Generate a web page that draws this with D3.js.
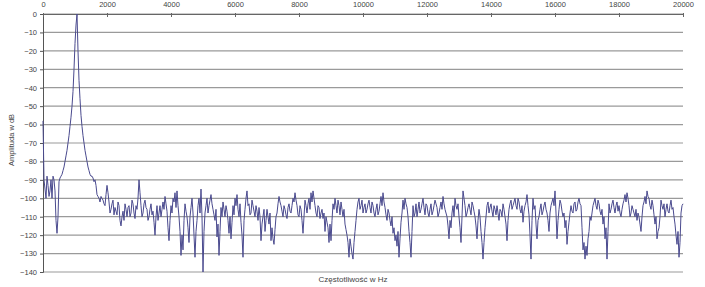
<!DOCTYPE html>
<html><head><meta charset="utf-8">
<script src="https://cdn.jsdelivr.net/npm/d3@7/dist/d3.min.js"></script>
<style>
html,body{margin:0;padding:0;background:#fff;}
svg{display:block;font-family:"Liberation Sans",Arial,sans-serif;}
</style></head>
<body>
<svg id="chart" width="705" height="287"></svg>
<script>
// frequency bins: spacing in Hz between consecutive samples
const binStepHz = 31.25;
// amplitude in dB per bin (bin 0 = 0 Hz), 641 bins up to 20000 Hz
const amplitudeDb = [
  -58, -90, -95, -100, -88, -93, -99, -96, -90, -100, -88, -90, -96, -112, -119, -110, -91, -89, -88, -87,
  -85, -83, -80, -77, -74, -70, -66, -61, -56, -50, -42, -30, -16, -6, 0, -20, -36, -46, -55, -61,
  -66, -70, -74, -77, -80, -83, -85, -87, -88, -88, -89, -91, -90, -93, -98, -99, -100, -102, -99, -100,
  -101, -103, -104, -98, -93, -97, -102, -108, -106, -103, -101, -109, -105, -107, -109, -102, -104, -112, -115, -110,
  -107, -112, -103, -106, -110, -105, -104, -110, -108, -101, -103, -108, -111, -104, -106, -100, -90, -97, -104, -110,
  -108, -103, -101, -105, -106, -112, -110, -106, -103, -109, -107, -113, -120, -110, -104, -112, -108, -104, -110, -106,
  -102, -106, -99, -103, -107, -116, -123, -112, -104, -108, -100, -102, -97, -105, -96, -104, -110, -118, -131, -120,
  -128, -112, -103, -107, -110, -116, -124, -110, -105, -100, -108, -120, -132, -118, -112, -104, -100, -108, -95, -110,
  -140, -118, -108, -104, -100, -108, -104, -101, -98, -103, -106, -109, -112, -106, -121, -114, -131, -118, -105, -110,
  -102, -106, -110, -104, -107, -112, -119, -110, -122, -113, -104, -109, -100, -104, -98, -106, -110, -103, -113, -120,
  -132, -112, -106, -100, -96, -104, -103, -109, -108, -101, -104, -107, -110, -104, -107, -112, -105, -110, -123, -114,
  -110, -106, -118, -112, -106, -110, -114, -108, -123, -116, -122, -125, -117, -110, -108, -103, -99, -102, -104, -107,
  -110, -104, -106, -109, -111, -105, -103, -107, -108, -104, -100, -102, -97, -101, -104, -109, -110, -104, -106, -112,
  -119, -110, -101, -104, -108, -103, -100, -106, -97, -102, -96, -100, -104, -108, -110, -104, -105, -111, -108, -106,
  -111, -108, -118, -110, -113, -116, -124, -114, -123, -112, -103, -106, -100, -104, -108, -101, -104, -109, -102, -106,
  -110, -106, -114, -117, -120, -124, -132, -122, -126, -130, -133, -124, -118, -112, -106, -102, -100, -106, -104, -101,
  -108, -105, -103, -108, -106, -103, -101, -105, -108, -102, -104, -108, -110, -106, -103, -109, -107, -103, -99, -104,
  -97, -102, -105, -109, -112, -106, -108, -112, -115, -110, -119, -116, -123, -120, -126, -118, -132, -122, -113, -108,
  -101, -106, -100, -103, -105, -110, -118, -124, -132, -118, -104, -110, -108, -103, -110, -106, -102, -108, -106, -103,
  -100, -105, -109, -103, -104, -108, -110, -106, -103, -109, -107, -104, -101, -103, -105, -110, -108, -105, -102, -106,
  -99, -103, -106, -108, -110, -115, -122, -112, -116, -108, -104, -110, -100, -104, -106, -103, -110, -116, -124, -110,
  -96, -100, -104, -110, -108, -105, -103, -106, -109, -102, -104, -107, -110, -115, -122, -112, -106, -110, -118, -124,
  -133, -124, -116, -110, -104, -102, -108, -105, -103, -107, -110, -104, -106, -109, -104, -108, -112, -106, -107, -110,
  -103, -106, -110, -114, -123, -112, -106, -103, -101, -106, -104, -102, -100, -104, -106, -100, -102, -106, -108, -104,
  -113, -107, -104, -102, -98, -104, -109, -120, -133, -112, -100, -106, -104, -114, -122, -112, -110, -106, -103, -109,
  -107, -104, -102, -106, -108, -112, -118, -108, -104, -102, -100, -104, -96, -108, -122, -112, -106, -101, -103, -107,
  -110, -108, -116, -112, -125, -118, -113, -108, -104, -107, -108, -103, -102, -107, -106, -102, -100, -103, -104, -116,
  -128, -124, -133, -126, -131, -122, -118, -110, -112, -108, -104, -102, -100, -104, -106, -101, -103, -107, -109, -106,
  -114, -110, -122, -116, -133, -118, -103, -108, -106, -103, -101, -105, -108, -104, -102, -107, -104, -108, -110, -106,
  -103, -101, -98, -102, -97, -100, -104, -110, -108, -104, -106, -108, -110, -106, -112, -108, -110, -114, -118, -110,
  -104, -102, -99, -103, -96, -99, -100, -104, -106, -101, -104, -109, -114, -110, -122, -118, -116, -110, -101, -104,
  -106, -103, -110, -106, -103, -107, -108, -104, -101, -106, -105, -110, -114, -120, -125, -118, -132, -124, -108, -104,
  -103
];
const xTicks = [0, 2000, 4000, 6000, 8000, 10000, 12000, 14000, 16000, 18000, 20000];
const yTicks = [0, -10, -20, -30, -40, -50, -60, -70, -80, -90, -100, -110, -120, -130, -140];
const xTitle = "Częstotliwość w Hz";
const yTitle = "Amplituda w dB";

const svg = d3.select("#chart");
const mLeft = 43, mRight = 683, mTop = 14, mBottom = 272;
const x = d3.scaleLinear().domain([0, 20000]).range([mLeft, mRight]);
const y = d3.scaleLinear().domain([0, -140]).range([mTop, mBottom]);

// horizontal gridlines
svg.append("g").selectAll("line").data(yTicks).join("line")
  .attr("x1", mLeft).attr("x2", mRight)
  .attr("y1", d => y(d)).attr("y2", d => y(d))
  .attr("stroke", "#9a9a9a").attr("stroke-width", 1.2);

// y axis
const yAxis = svg.append("g").attr("transform", `translate(${mLeft},0)`)
  .call(d3.axisLeft(y).tickValues(yTicks).tickSize(3).tickPadding(3).tickFormat(d3.format("d")));
yAxis.select(".domain").attr("stroke", "#555");
yAxis.selectAll(".tick line").attr("stroke", "#555");
yAxis.selectAll("text").attr("font-size", 7.5).attr("fill", "#444");

// x axis on top
const xAxis = svg.append("g").attr("transform", `translate(0,${mTop})`)
  .call(d3.axisTop(x).tickValues(xTicks).tickSizeInner(-4).tickSizeOuter(0).tickPadding(7).tickFormat(d3.format("d")));
xAxis.select(".domain").attr("stroke", "#666");
xAxis.selectAll(".tick line").attr("stroke", "#666").attr("y1", 3).attr("y2", -1);
xAxis.selectAll("text").attr("font-size", 7.5).attr("fill", "#444");

// spectrum line
const line = d3.line()
  .x((d, i) => x(i * binStepHz))
  .y(d => y(d));
svg.append("path").datum(amplitudeDb)
  .attr("d", line)
  .attr("fill", "none")
  .attr("stroke", "#4a4a8e")
  .attr("stroke-width", 1)
  .attr("stroke-linejoin", "round");

// titles
svg.append("text").attr("x", 353).attr("y", 282)
  .attr("text-anchor", "middle").attr("font-size", 8).attr("fill", "#444").text(xTitle);
svg.append("text").attr("transform", "translate(14,140) rotate(-90)")
  .attr("text-anchor", "middle").attr("font-size", 7.5).attr("fill", "#444").text(yTitle);
</script>
</body></html>
